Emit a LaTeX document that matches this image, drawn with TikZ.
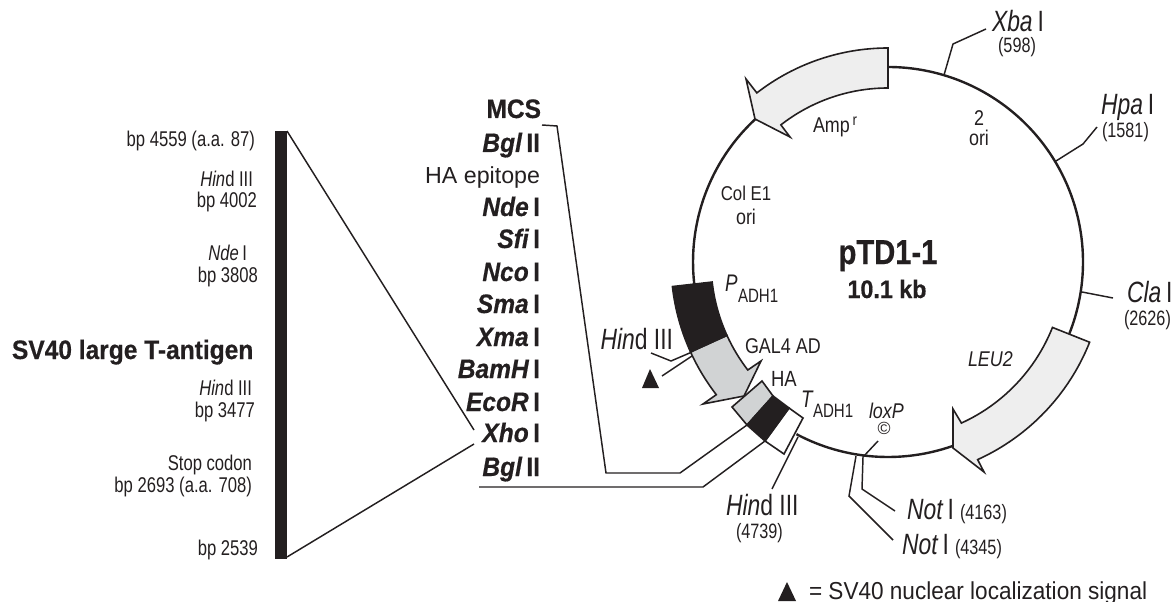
\documentclass[tikz,border=0pt]{standalone}
\usepackage{fontspec}
\setmainfont{Liberation Sans}
\newfontfamily\narf{Liberation Sans}[FakeStretch=0.84,BoldFeatures={FakeBold=0.5}]
\newfontfamily\thinf{Liberation Sans}[FakeStretch=0.78]
\newfontfamily\midf{Liberation Sans}[FakeStretch=0.92,BoldFeatures={FakeBold=0.5},BoldItalicFeatures={FakeBold=0.5}]
\definecolor{ink}{HTML}{231F20}
\definecolor{pale}{HTML}{EEEEEE}
\definecolor{gal}{HTML}{D1D3D4}
\tikzset{
  lab/.style={inner sep=0pt,outer sep=0pt,text=ink},
  lr/.style={lab,anchor=base east},
  ll/.style={lab,anchor=base west},
  lc/.style={lab,anchor=base},
  small/.style={font=\thinf\fontsize{16}{19}\selectfont},
  tiny/.style={font=\thinf\fontsize{15.6}{18}\selectfont},
  gene/.style={font=\narf\fontsize{16}{19}\selectfont},
  subs/.style={font=\thinf\fontsize{14.5}{17}\selectfont},
  site/.style={font=\thinf\fontsize{22}{26}\selectfont},
  mcs/.style={font=\midf\bfseries\fontsize{20}{23}\selectfont},
  lead/.style={draw=ink,line width=1.1pt,line join=miter},
  backbone/.style={draw=ink,line width=1.8pt},
  feat/.style={draw=ink,line width=1.2pt,line join=miter}
}
\begin{document}
\begin{tikzpicture}[x=0.75pt,y=0.75pt]
\useasboundingbox (0,0) rectangle (1173,-602);
% plasmid backbone
\begin{scope}[shift={(888,-262)}]
  \draw[backbone] (90:195) arc[start angle=90,end angle=-21.8,radius=195];
  \draw[backbone] (-70.7:195) arc[start angle=-70.7,end angle=-118,radius=195];
  \draw[backbone] (132.9:195) arc[start angle=132.9,end angle=186.5,radius=195];
\end{scope}
% arrowhead corners
\coordinate (ampB) at (790,-137);
\coordinate (ampT) at (755,-119);
\coordinate (ampC) at (746,-79);
\coordinate (leuC) at (953,-409);
\coordinate (leuT) at (953,-448);
\coordinate (leuB) at (984,-472);
\coordinate (galB) at (703,-404);
\coordinate (galT) at (744,-396);
\coordinate (galC) at (761,-361);
\begin{scope}[shift={(888,-262)}]
  \draw[feat,fill=pale] (90:214) -- (90:174) arc[start angle=90,end angle=128,radius=174]
     -- (ampB) -- (ampT) -- (ampC) -- (127.8:214) arc[start angle=127.8,end angle=90,radius=214] -- cycle;
  \draw[feat,fill=pale] (-21.7:216) -- (-21.7:177) arc[start angle=-21.7,end angle=-65.5,radius=177]
     -- (leuC) -- (leuT) -- (leuB) -- (-65.6:217) arc[start angle=-65.6,end angle=-21.7,radius=217] -- cycle;
  \draw[feat,fill=gal] (204.5:217) arc[start angle=204.5,end angle=217.7,radius=217]
     -- (galB) -- (galT) -- (galC) -- (217.6:177) arc[start angle=217.6,end angle=204.5,radius=177] -- cycle;
  \draw[feat,fill=ink] (186.5:217) arc[start angle=186.5,end angle=204.5,radius=217]
     -- (204.5:177) arc[start angle=204.5,end angle=186.5,radius=177] -- cycle;
\end{scope}
% HA / T boxes
\coordinate (haA) at (732,-407);
\coordinate (haB) at (762,-381);
\coordinate (haC) at (773,-396);
\coordinate (haD) at (747,-425);
\coordinate (blC) at (789,-408);
\coordinate (blD) at (765,-441);
\coordinate (whC) at (803,-418);
\coordinate (whD) at (784,-454);
\draw[feat,fill=white] (blC) -- (whC) -- (whD) -- (blD) -- cycle;
\draw[feat,fill=gal] (haA) -- (haB) -- (haC) -- (haD) -- cycle;
\draw[feat,fill=ink] (haD) -- (haC) -- (blC) -- (blD) -- cycle;
% bar
\fill[ink] (275,-131) rectangle (287,-559);
\coordinate (barT) at (287,-131);
\coordinate (barB) at (287,-557);
\coordinate (xhoA) at (474,-430);
\coordinate (xhoB) at (474,-444);
\draw[lead] (barT) -- (xhoA);
\draw[lead] (barB) -- (xhoB);
% MCS leaders
\coordinate (m1) at (680,-473);
\coordinate (m2) at (606,-473);
\coordinate (m3) at (557,-126);
\coordinate (m4) at (542,-125);
\draw[lead] (haD) -- (m1) -- (m2) -- (m3) -- (m4);
\coordinate (g1) at (703,-487);
\coordinate (g2) at (479,-487);
\draw[lead] (blD) -- (g1) -- (g2);
% site ticks
\coordinate (x1) at (944,-75);\coordinate (x2) at (953,-44);\coordinate (x3) at (986,-29);
\draw[lead] (x1) -- (x2) -- (x3);
\coordinate (h1) at (1056,-161);\coordinate (h2) at (1083,-144);\coordinate (h3) at (1097,-127);
\draw[lead] (h1) -- (h2) -- (h3);
\coordinate (c1) at (1082,-292);\coordinate (c2) at (1113,-298);
\draw[lead] (c1) -- (c2);
\coordinate (n1) at (863,-457);\coordinate (n2) at (862,-489);\coordinate (n3) at (895,-511);
\draw[lead] (n1) -- (n2) -- (n3);
\coordinate (o1) at (856,-456);\coordinate (o2) at (849,-496);\coordinate (o3) at (893,-540);
\draw[lead] (o1) -- (o2) -- (o3);
\coordinate (l1) at (878,-441);
\draw[lead] (n1) -- (l1);
\coordinate (d1) at (798,-437);\coordinate (d2) at (772,-489);
\draw[lead] (d1) -- (d2);
\coordinate (e1) at (651,-353);\coordinate (e2) at (671,-361);\coordinate (e3) at (692,-352);
\draw[lead] (e1) -- (e2) -- (e3);
\coordinate (f1) at (692,-356);\coordinate (f2) at (662,-376);
\draw[lead] (f1) -- (f2);
% triangles
\fill[ink] (650,-369) -- (642,-388) -- (659,-388) -- cycle;
\fill[ink] (787,-582) -- (778,-601) -- (796,-601) -- cycle;
% left labels
\node[lr,small] (t1) at (255,-147) {bp 4559 (a.a. 87)};
\node[lr,small] (t2) at (253,-187) {\itshape Hin\upshape d III};
\node[lr,small] (t3) at (257,-208) {bp 4002};
\node[lr,small] (t4) at (247,-260) {\itshape Nde\upshape\,I};
\node[lr,small] (t5) at (258,-282) {bp 3808};
\node[ll,font=\midf\bfseries\fontsize{20}{24}\selectfont] (t6) at (12,-359) {SV40 large T-antigen};
\node[lr,small] (t7) at (252,-395) {\itshape Hin\upshape d III};
\node[lr,small] (t8) at (255,-417) {bp 3477};
\node[lr,small] (t9) at (252,-470) {Stop codon};
\node[lr,small] (t10) at (252,-492) {bp 2693 (a.a. 708)};
\node[lr,small] (t11) at (258,-555) {bp 2539};
% MCS list
\node[lr,mcs] (a0) at (541,-118) {MCS};
\node[lr,mcs] (a1) at (540,-152) {\itshape Bgl\upshape\,II};
\node[lr,font=\fontsize{17.4}{21}\selectfont] (a2) at (540,-184) {HA epitope};
\node[lr,mcs] (a3) at (540,-216) {\itshape Nde\upshape\,I};
\node[lr,mcs] (a4) at (540,-248) {\itshape Sfi\upshape\,I};
\node[lr,mcs] (a5) at (540,-281) {\itshape Nco\upshape\,I};
\node[lr,mcs] (a6) at (540,-313) {\itshape Sma\upshape\,I};
\node[lr,mcs] (a7) at (540,-346) {\itshape Xma\upshape\,I};
\node[lr,mcs] (a8) at (540,-378) {\itshape BamH\upshape\,I};
\node[lr,mcs] (a9) at (540,-411) {\itshape EcoR\upshape\,I};
\node[lr,mcs] (a10) at (540,-442) {\itshape Xho\upshape\,I};
\node[lr,mcs] (a11) at (540,-476) {\itshape Bgl\upshape\,II};
% plasmid labels
\node[ll,gene] (p1) at (813,-133) {Amp\raisebox{5.5pt}{\fontsize{12}{14}\selectfont\,r}};
\node[lc,gene] (p2) at (979,-126) {2};
\node[lc,gene] (p3) at (979,-146) {ori};
\node[lc,font=\narf\fontsize{15}{18}\selectfont] (p4) at (746,-201) {Col E1};
\node[lc,gene] (p5) at (746,-224) {ori};
\node[lc,font=\narf\bfseries\fontsize{26}{31}\selectfont] (p6) at (888,-264) {pTD1-1};
\node[lc,font=\midf\bfseries\fontsize{19}{23}\selectfont] (p7) at (887,-298) {10.1 kb};
\node[ll,gene] (p8) at (968,-366) {\itshape LEU2};
\node[ll,font=\thinf\itshape\fontsize{18}{22}\selectfont] (p9) at (725,-291) {P};
\node[ll,subs] (p10) at (738,-302) {ADH1};
\node[ll,gene] (p11) at (745,-353) {GAL4 AD};
\node[ll,font=\narf\fontsize{16.5}{20}\selectfont] (p12) at (771,-386) {HA};
\node[ll,font=\thinf\itshape\fontsize{18}{22}\selectfont] (p13) at (801,-407) {T};
\node[ll,subs] (p14) at (813,-417) {ADH1};
\node[ll,font=\narf\itshape\fontsize{16}{19}\selectfont] (p15) at (869,-418) {loxP};
\node[lc,font=\fontsize{13.2}{16}\selectfont] (p16) at (884,-434) {\char"00A9};
\node[lr,site] (p17) at (673,-349) {\itshape Hin\upshape d III};
% site labels
\node[ll,site] (s1) at (992,-32) {\itshape Xba\upshape\,I};
\node[lc,tiny] (s2) at (1017,-53) {(598)};
\node[ll,site] (s3) at (1101,-115) {\itshape Hpa\upshape\,I};
\node[ll,tiny] (s4) at (1102,-138) {(1581)};
\node[ll,site] (s5) at (1127,-302) {\itshape Cla\upshape\,I};
\node[ll,tiny] (s6) at (1124,-325) {(2626)};
\node[ll,site] (s7) at (907,-519) {\itshape Not\upshape\,I};
\node[ll,tiny] (s8) at (960,-519) {(4163)};
\node[ll,site] (s9) at (902,-554) {\itshape Not\upshape\,I};
\node[ll,tiny] (s10) at (955,-554) {(4345)};
\node[ll,site] (s11) at (726,-515) {\itshape Hin\upshape d III};
\node[ll,tiny] (s12) at (736,-538) {(4739)};
\node[ll,font=\midf\fontsize{18.4}{22}\selectfont] (s13) at (809,-599) {= SV40 nuclear localization signal};
\end{tikzpicture}
\end{document}
